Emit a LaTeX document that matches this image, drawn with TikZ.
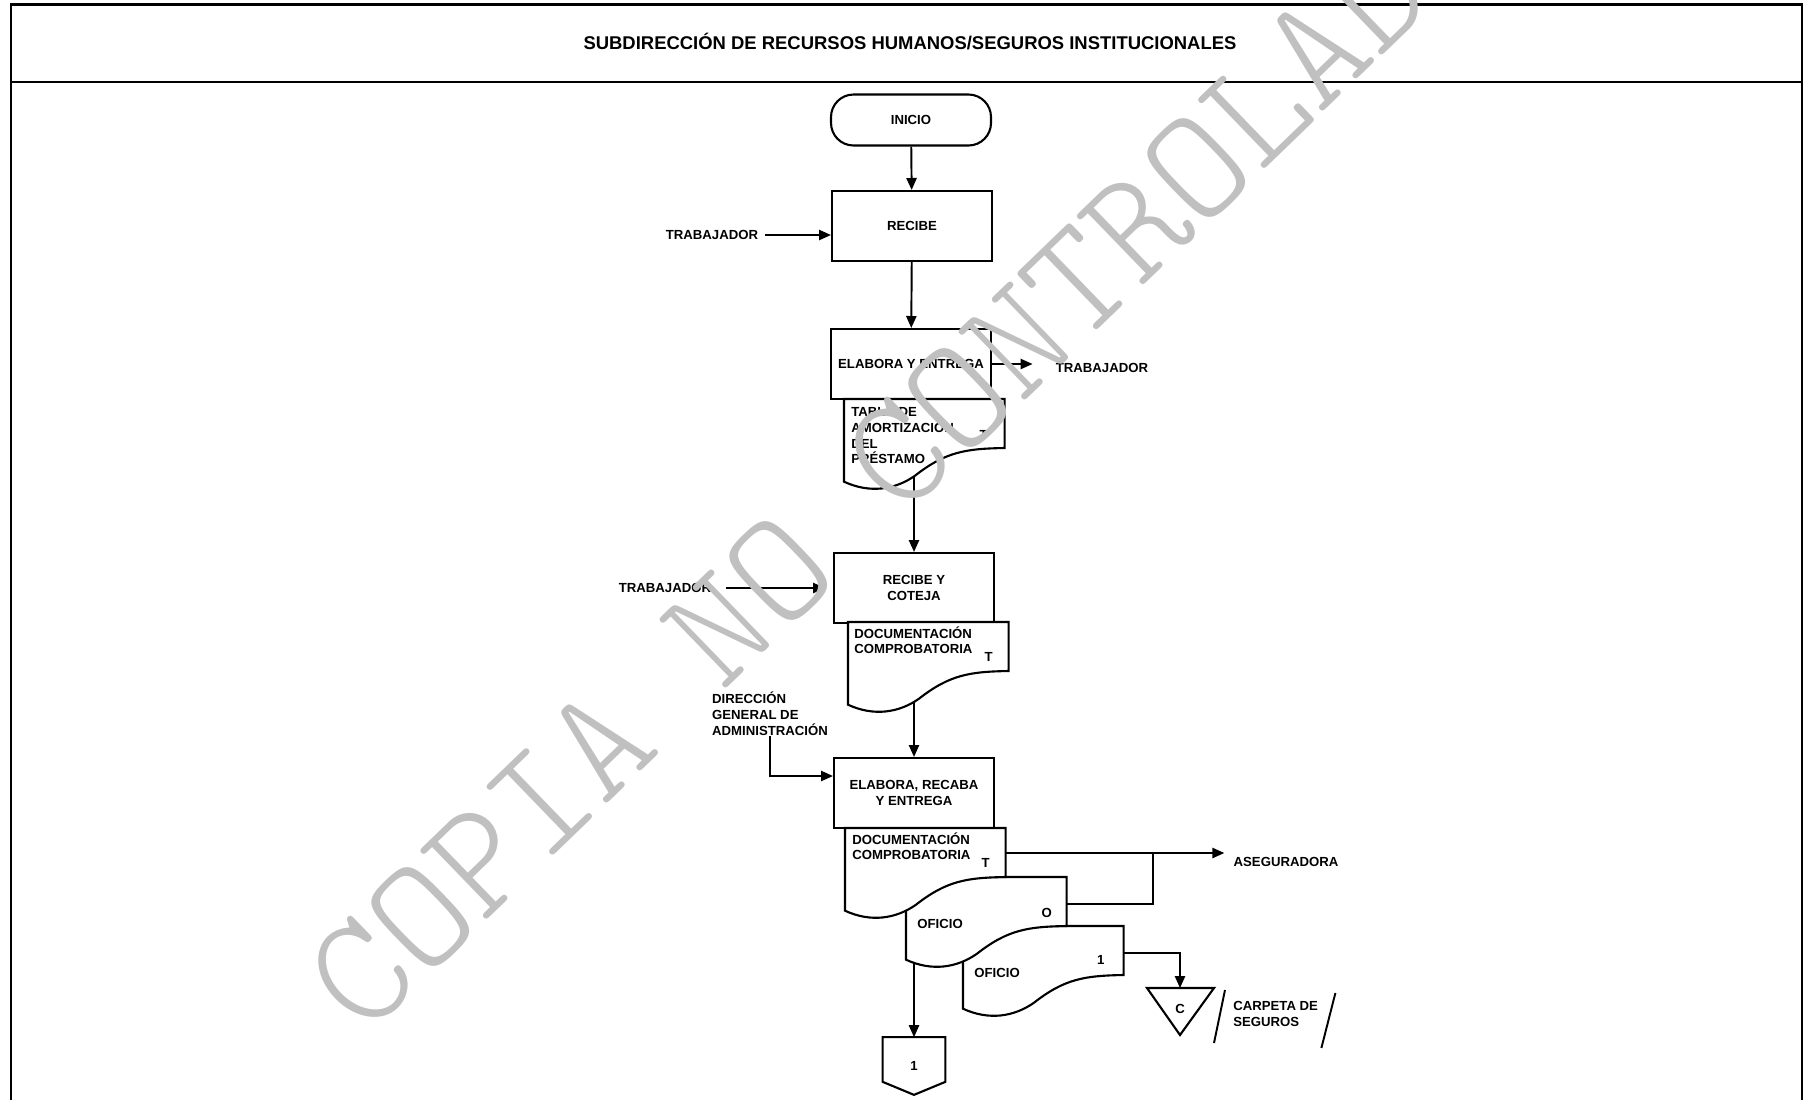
\documentclass[tikz,border=0pt]{standalone}
\usepackage{fontspec}
\setmainfont{Liberation Sans}
\newfontfamily\letrero{lmmonolt10-regular}[Extension=.otf]
\usetikzlibrary{arrows.meta,positioning,calc}
\definecolor{grismarca}{RGB}{192,192,192}
\tikzset{
  proceso/.style={rectangle, draw, line width=1.2pt, fill=white,
                  minimum width=3.2cm, minimum height=1.4cm, align=center,
                  font=\fontsize{7.5}{9}\selectfont\bfseries},
  terminal/.style={proceso, rounded corners=0.45cm, minimum height=1.02cm},
  docu/.style={rectangle, inner sep=0pt, minimum width=3.2cm, minimum height=1.64cm, anchor=north west},
  doctexto/.style={inner sep=0pt, align=left, anchor=north west, font=\fontsize{7.5}{9}\selectfont\bfseries},
  marca/.style={inner sep=0pt, font=\fontsize{7.5}{9}\selectfont\bfseries},
  etiqueta/.style={inner sep=0pt, align=left, font=\fontsize{7.5}{9}\selectfont\bfseries},
  forma/.style={line width=1.2pt},
  linea/.style={line width=1.1pt},
  flecha/.style={linea, -{Triangle[length=6.8pt,width=5.8pt]}},
}
% contorno de documento con borde inferior ondulado
\newcommand{\docborde}[1]{%
  \draw[forma, fill=white] (#1.south west) |- (#1.north east)
    -- ($(#1.north east)+(0,49)$)
    .. controls ($(#1.south east)+(-39,-33)$) and ($(#1.south east)+(-59,-30)$) .. ($(#1.south west)+(71,-6)$)
    .. controls ($(#1.south west)+(51,8)$) and ($(#1.south west)+(26,12)$) .. cycle;}

\begin{document}
\begin{tikzpicture}[x=0.02cm, y=-0.02cm]
\useasboundingbox (0,0) rectangle (1803,1100);

% marco y encabezado
\draw[line width=1.4pt] (11,1100) |- (1802,4.5) -- (1802,1100);
\draw[line width=1.2pt] (11,82) -- (1802,82);
\node[font=\fontsize{10.5}{12}\selectfont\bfseries] (titulo) at (910,42)
  {SUBDIRECCIÓN DE RECURSOS HUMANOS/SEGUROS INSTITUCIONALES};

% actividades
\node[terminal] (inicio) at (911,120) {INICIO};
\node[proceso] (recibe) at (912,226) {RECIBE};
\node[proceso] (elabora) at (911,364) {ELABORA Y ENTREGA};
\node[proceso] (recibey) at (914,588) {RECIBE Y\\COTEJA};
\node[proceso] (elabora2) at (914,793) {ELABORA, RECABA\\Y ENTREGA};

% documentos
\node[docu] (tabla) at (844,399) {};
\node[docu] (compro1) at (848,622) {};
\node[docu] (compro2) at (845,828) {};
\node[docu] (oficio0) at (906,877) {};
\node[docu] (oficio1) at (963,926) {};

% entradas y salidas
\node[etiqueta] (trab1) at (712,235) {TRABAJADOR};
\node[etiqueta] (trab2) at (1102,368) {TRABAJADOR};
\node[etiqueta] (trab3) at (665,588) {TRABAJADOR};
\node[etiqueta] (dga) at (770,714) {DIRECCIÓN\\GENERAL DE\\ADMINISTRACIÓN};
\node[etiqueta] (asegura) at (1286,862) {ASEGURADORA};
\node[etiqueta, anchor=west] (carpeta) at (1233,1014) {CARPETA DE\\SEGUROS};
\node[marca] (archivo) at (1180,1009) {C};
\node[marca, minimum width=1.24cm, minimum height=1.14cm] (salida) at (914,1066) {1};

% conectores
\draw[flecha] (inicio) -- (recibe);
\draw[flecha, shorten <=0.14cm] (trab1.east) -- (trab1.east -| recibe.west);
\draw[flecha] (recibe) -- (elabora);
\draw[flecha, shorten >=0.46cm] (elabora.east) -- (elabora.east -| trab2.west);
\draw[flecha] (recibey.north |- tabla.center) -- (recibey.north);
\draw[flecha, shorten <=0.3cm, shorten >=0.16cm] (trab3.east) -- (trab3.east -| recibey.west);
\draw[flecha] (elabora2.north |- compro1.center) -- (elabora2.north);
\draw[flecha] (dga.south) |- ($(elabora2.west)+(0,-17)$);
\coordinate (sal3) at ($(compro2.north east)+(0,25)$);
\coordinate (union) at ($(sal3)+(147,0)$);
\draw[flecha, shorten >=0.18cm] (sal3) -- (sal3 -| asegura.west);
\draw[linea] ($(oficio0.north east)+(0,27)$) -| (union);
\coordinate (archtop) at ($(archivo)+(0,-21)$);
\draw[flecha] ($(oficio1.north east)+(0,27)$) -| (archtop);
\draw[flecha] (salida.north |- oficio0.center) -- (salida.north);

% documentos, de atras hacia adelante
\docborde{oficio1}
\docborde{oficio0}
\docborde{compro2}
\docborde{tabla}
\docborde{compro1}

% archivo, conector de pagina y diagonales
\draw[forma] ($(archivo)+(-33,-21)$) -- ($(archivo)+(34,-21)$) -- ($(archivo)+(0,26)$) -- cycle;
\draw[forma] (salida.north west) -- (salida.north east) -- ($(salida.south east)+(0,-13)$)
  -- (salida.south) -- ($(salida.south west)+(0,-13)$) -- cycle;
\draw[linea] ($(carpeta.west)+(-8,-24)$) -- ($(carpeta.west)+(-19,29)$);
\draw[linea] ($(carpeta.east)+(17,-21)$) -- ($(carpeta.east)+(3,34)$);

% textos de los documentos
\node[doctexto] (tablatxt) at ($(tabla.north west)+(7,8)$) {TABLA DE\\AMORTIZACIÓN\\DEL\\PRÉSTAMO};
\node[marca] (tablat) at ($(tabla.north east)+(-21,36)$) {T};
\node[doctexto] (compro1txt) at ($(compro1.north west)+(6,4)$) {DOCUMENTACIÓN\\COMPROBATORIA};
\node[marca] (compro1t) at ($(compro1.north east)+(-20,35)$) {T};
\node[doctexto] (compro2txt) at ($(compro2.north west)+(7,4)$) {DOCUMENTACIÓN\\COMPROBATORIA};
\node[marca] (compro2t) at ($(compro2.north east)+(-20,35)$) {T};
\node[doctexto] (oficio0txt) at ($(oficio0.north west)+(11,42)$) {OFICIO};
\node[marca] (oficio0t) at ($(oficio0.north east)+(-20,36)$) {O};
\node[doctexto] (oficio1txt) at ($(oficio1.north west)+(11,42)$) {OFICIO};
\node[marca] (oficio1t) at ($(oficio1.north east)+(-23,34)$) {1};

% leyenda de control
\node[rotate=44, text=grismarca, font=\letrero\fontsize{90}{90}\selectfont] (copia) at (898,456)
  {COPIA NO CONTROLADA};
\end{tikzpicture}
\end{document}
